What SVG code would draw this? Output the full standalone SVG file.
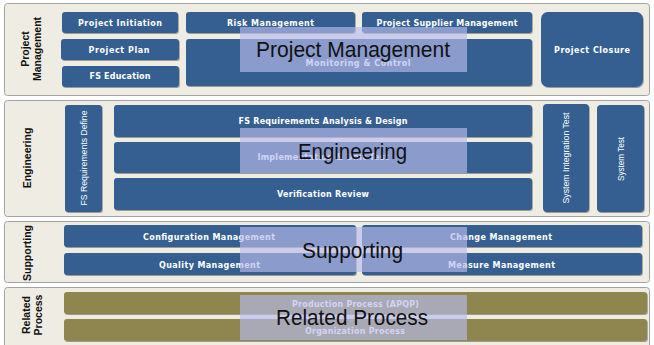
<svg xmlns="http://www.w3.org/2000/svg" width="654" height="345" viewBox="0 0 654 345">
<defs>
<filter id="sh" x="-10%" y="-10%" width="120%" height="130%">
<feDropShadow dx="0.8" dy="1" stdDeviation="0.7" flood-color="#000" flood-opacity="0.35"/>
</filter>
<style>
.panel{fill:#EEECE3;stroke:#A3A3A3;stroke-width:1}
.box{fill:#365F91;filter:url(#sh)}
.obox{fill:#8E8550;filter:url(#sh)}
.bt{font-family:"DejaVu Sans",sans-serif;font-weight:bold;font-size:8px;fill:#FFFFFF;text-anchor:middle}
.vt{font-family:"Liberation Sans",Arial,sans-serif;font-size:9px;fill:#FFFFFF;text-anchor:middle}
.lbl{font-family:"Liberation Sans",Arial,sans-serif;font-weight:bold;font-size:10.5px;fill:#111;text-anchor:middle}
.ov{fill:#B9BCEC;fill-opacity:0.65}
.big{font-family:"Liberation Sans",Arial,sans-serif;font-size:22px;fill:#111;text-anchor:middle}
</style>
</defs>
<rect x="0" y="0" width="654" height="345" fill="#FFFFFF"/>

<g id="panel-project-management">
<rect class="panel" x="4.5" y="3.5" width="645" height="92" rx="3"/>
<text class="lbl" transform="translate(29,49) rotate(-90)">Project</text>
<text class="lbl" transform="translate(41,49) rotate(-90)">Management</text>
</g>
<g id="panel-engineering">
<rect class="panel" x="4.5" y="100.5" width="645" height="116" rx="3"/>
<text class="lbl" transform="translate(31,158) rotate(-90)">Engineering</text>
</g>
<g id="panel-supporting">
<rect class="panel" x="4.5" y="221.5" width="645" height="61" rx="3"/>
<text class="lbl" transform="translate(31,253) rotate(-90)">Supporting</text>
</g>
<g id="panel-related">
<rect class="panel" x="4.5" y="287.5" width="645" height="64" rx="3"/>
<text class="lbl" transform="translate(30,315) rotate(-90)">Related</text>
<text class="lbl" transform="translate(42,315) rotate(-90)">Process</text>
</g>

<g id="project-initiation"><rect class="box" x="62" y="12" width="116" height="21" rx="3"/><text class="bt" x="120" y="25.5" textLength="84" lengthAdjust="spacing">Project Initiation</text></g>
<g id="project-plan"><rect class="box" x="61" y="39" width="118" height="21" rx="3"/><text class="bt" x="119" y="52.5" textLength="61" lengthAdjust="spacing">Project Plan</text></g>
<g id="fs-education"><rect class="box" x="62" y="66" width="117" height="21" rx="3"/><text class="bt" x="120" y="79" textLength="61" lengthAdjust="spacing">FS Education</text></g>
<g id="risk-management"><rect class="box" x="186" y="12" width="169" height="21" rx="3"/><text class="bt" x="270.5" y="25.5" textLength="87" lengthAdjust="spacing">Risk Management</text></g>
<g id="project-supplier-management"><rect class="box" x="362" y="12" width="170" height="21" rx="3"/><text class="bt" x="447" y="25.5" textLength="141" lengthAdjust="spacing">Project Supplier Management</text></g>
<g id="monitoring-control"><rect class="box" x="186" y="39" width="346" height="47" rx="3"/><text class="bt" x="358" y="65.5" textLength="105" lengthAdjust="spacing">Monitoring &amp; Control</text></g>
<g id="project-closure"><rect class="box" x="541" y="12" width="102" height="75" rx="7"/><text class="bt" x="592" y="52.5" textLength="76" lengthAdjust="spacing">Project Closure</text></g>

<g id="fs-requirements-define"><rect class="box" x="65" y="105" width="37" height="107" rx="3"/><text class="vt" transform="translate(86.5,158) rotate(-90)" textLength="95" lengthAdjust="spacingAndGlyphs">FS Requirements Define</text></g>
<g id="fs-requirements-analysis"><rect class="box" x="114" y="105" width="418" height="32" rx="3"/><text class="bt" x="323" y="123.5" textLength="169" lengthAdjust="spacing">FS Requirements Analysis &amp; Design</text></g>
<g id="implementation-unit-test"><rect class="box" x="114" y="142" width="418" height="31" rx="3"/><text class="bt" x="323" y="160" textLength="131" lengthAdjust="spacing">Implementation &amp; Unit Test</text></g>
<g id="verification-review"><rect class="box" x="114" y="178" width="418" height="32" rx="3"/><text class="bt" x="323" y="196.5" textLength="92" lengthAdjust="spacing">Verification Review</text></g>
<g id="system-integration-test"><rect class="box" x="543" y="104" width="46" height="108" rx="4"/><text class="vt" transform="translate(568.5,158) rotate(-90)" textLength="91" lengthAdjust="spacingAndGlyphs">System Integration Test</text></g>
<g id="system-test"><rect class="box" x="597" y="105" width="47" height="107" rx="4"/><text class="vt" transform="translate(624,159) rotate(-90)" textLength="44" lengthAdjust="spacingAndGlyphs">System Test</text></g>

<g id="configuration-management"><rect class="box" x="64" y="225" width="292" height="22" rx="3"/><text class="bt" x="209" y="239.5" textLength="132" lengthAdjust="spacing">Configuration Management</text></g>
<g id="quality-management"><rect class="box" x="64" y="253" width="292" height="22" rx="3"/><text class="bt" x="209.5" y="267.5" textLength="101" lengthAdjust="spacing">Quality Management</text></g>
<g id="change-management"><rect class="box" x="362" y="225" width="280" height="22" rx="3"/><text class="bt" x="501" y="239.5" textLength="102" lengthAdjust="spacing">Change Management</text></g>
<g id="measure-management"><rect class="box" x="362" y="253" width="280" height="22" rx="3"/><text class="bt" x="501.5" y="267.5" textLength="107" lengthAdjust="spacing">Measure Management</text></g>

<g id="production-process"><rect class="obox" x="64" y="292" width="583" height="22" rx="3"/><text class="bt" x="355.5" y="306.5" textLength="127" lengthAdjust="spacing">Production Process (APQP)</text></g>
<g id="organization-process"><rect class="obox" x="64" y="319" width="583" height="22" rx="3"/><text class="bt" x="355" y="333.5" textLength="100" lengthAdjust="spacing">Organization Process</text></g>

<g id="overlay-project-management"><rect class="ov" x="240" y="27" width="227" height="45"/><text class="big" x="353" y="57" textLength="194" lengthAdjust="spacingAndGlyphs">Project Management</text></g>
<g id="overlay-engineering"><rect class="ov" x="240" y="128" width="227" height="45"/><text class="big" x="352.5" y="159" textLength="109" lengthAdjust="spacingAndGlyphs">Engineering</text></g>
<g id="overlay-supporting"><rect class="ov" x="240" y="227" width="227" height="45"/><text class="big" x="352.5" y="258" textLength="101" lengthAdjust="spacingAndGlyphs">Supporting</text></g>
<g id="overlay-related-process"><rect class="ov" x="240" y="295" width="227" height="45"/><text class="big" x="352" y="325" textLength="152" lengthAdjust="spacingAndGlyphs">Related Process</text></g>
</svg>
